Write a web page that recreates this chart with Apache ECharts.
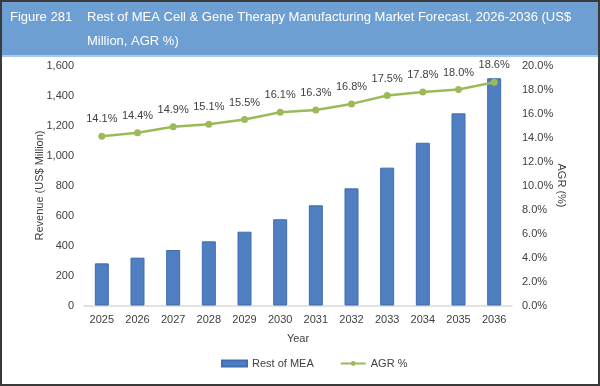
<!DOCTYPE html>
<html>
<head>
<meta charset="utf-8">
<script src="https://cdn.jsdelivr.net/npm/echarts@6/dist/echarts.min.js"></script>
<style>
  html, body { margin: 0; padding: 0; background: #fff; }
  #chart { width: 600px; height: 386px; }
</style>
</head>
<body>
<div id="chart"></div>
<script>
// 数据
const years = ['2025', '2026', '2027', '2028', '2029', '2030', '2031', '2032', '2033', '2034', '2035', '2036']
const revenue = [281, 319, 370, 428, 492, 575, 668, 781, 919, 1085, 1281, 1515]
const agr = [14.1, 14.4, 14.9, 15.1, 15.5, 16.1, 16.3, 16.8, 17.5, 17.8, 18.0, 18.6]
const figureNo = 'Figure 281'
const titleText = 'Rest of MEA Cell & Gene Therapy Manufacturing Market Forecast, 2026-2036 (US$\nMillion, AGR %)'

const font = 'Arial, "Liberation Sans", sans-serif'
const txt = '#404040'

const myChart = echarts.init(document.getElementById('chart'))
myChart.setOption({
  textStyle: { fontFamily: font },
  animation: false,
  // 标题栏
  graphic: [
    {
      type: 'rect',
      shape: { x: 0, y: 0, width: 600, height: 56 },
      style: { fill: '#6e9fd3' },
      z: 0
    },
    {
      type: 'rect',
      shape: { x: 0, y: 55, width: 600, height: 2 },
      style: { fill: '#a9c9ec' },
      z: 1
    },
    {
      type: 'text',
      x: 10,
      y: 5,
      style: { text: figureNo, fill: '#fff', font: '13px ' + font, lineHeight: 24 },
      z: 2
    },
    {
      type: 'text',
      x: 87,
      y: 5,
      style: { text: titleText, fill: '#fff', font: '13px ' + font, lineHeight: 24 },
      z: 2
    },
    {
      type: 'rect',
      shape: { x: 1, y: 1, width: 598, height: 384 },
      style: { fill: 'none', stroke: '#3a3a3a', lineWidth: 2 },
      z: 10
    }
  ],
  legend: {
    bottom: 12,
    left: 216,
    itemWidth: 25,
    itemHeight: 6,
    itemGap: 26,
    textStyle: { color: txt, fontSize: 11, fontFamily: font },
    data: [
      { name: 'Rest of MEA', icon: 'rect' },
      { name: 'AGR %' }
    ]
  },
  grid: {
    left: 84,
    right: 88,
    top: 65.5,
    bottom: 80.5
  },
  xAxis: {
    type: 'category',
    data: years,
    name: 'Year',
    nameLocation: 'middle',
    nameGap: 28,
    nameTextStyle: { color: txt, fontSize: 11 },
    axisLine: { lineStyle: { color: '#d9d9d9', width: 1.5 } },
    axisTick: { show: false },
    axisLabel: { color: txt, fontSize: 11, margin: 9 }
  },
  yAxis: [
    {
      type: 'value',
      min: 0,
      max: 1600,
      interval: 200,
      name: 'Revenue (US$ Million)',
      nameLocation: 'middle',
      nameGap: 39,
      nameMoveOverlap: false,
      nameTextStyle: { color: txt, fontSize: 11 },
      axisLabel: {
        color: txt,
        fontSize: 11,
        margin: 10,
        formatter: v => v.toLocaleString('en-US')
      },
      axisLine: { show: false },
      axisTick: { show: false },
      splitLine: { show: false }
    },
    {
      type: 'value',
      min: 0,
      max: 20,
      interval: 2,
      name: 'AGR (%)',
      nameLocation: 'middle',
      nameGap: 44,
      nameRotate: -90,
      nameMoveOverlap: false,
      nameTextStyle: { color: txt, fontSize: 11 },
      axisLabel: {
        color: txt,
        fontSize: 11,
        margin: 10,
        formatter: v => v.toFixed(1) + '%'
      },
      axisLine: { show: false },
      axisTick: { show: false },
      splitLine: { show: false }
    }
  ],
  series: [
    {
      name: 'Rest of MEA',
      type: 'bar',
      data: revenue,
      barWidth: 14,
      itemStyle: { color: '#4f7ec1', borderColor: '#3f6db2', borderWidth: 1 }
    },
    {
      name: 'AGR %',
      type: 'line',
      yAxisIndex: 1,
      data: agr,
      symbol: 'circle',
      symbolSize: 7,
      lineStyle: { color: '#9bbb59', width: 2.5 },
      itemStyle: { color: '#9bbb59' },
      label: {
        show: true,
        position: 'top',
        distance: 8,
        color: txt,
        fontSize: 11,
        formatter: p => p.value.toFixed(1) + '%'
      }
    }
  ]
})
</script>
</body>
</html>
